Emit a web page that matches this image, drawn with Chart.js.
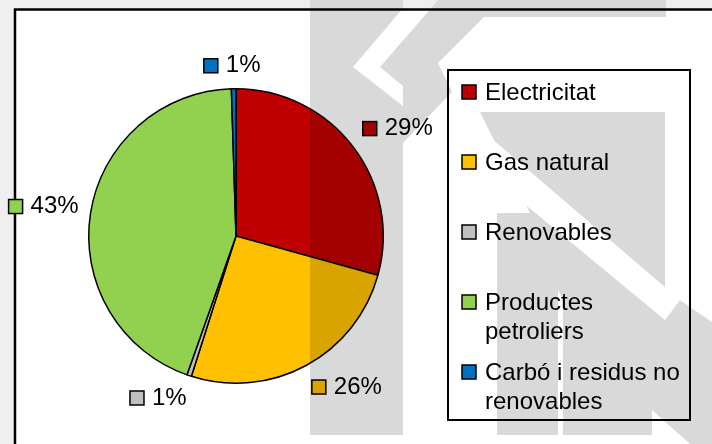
<!DOCTYPE html>
<html>
<head>
<meta charset="utf-8">
<script src="https://cdn.jsdelivr.net/npm/chart.js@4.4.0/dist/chart.umd.min.js"></script>
<style>
  html, body { margin: 0; padding: 0; background: #efefef; }
  #wrap { position: relative; width: 712px; height: 444px; }
</style>
</head>
<body>
<div id="wrap"><canvas id="chart" width="712" height="444"></canvas></div>
<script>
// Final energy consumption by source (shares)
const categories = ['Electricitat', 'Gas natural', 'Renovables', 'Productes petroliers', 'Carbó i residus no renovables'];
const shares = [29.3, 25.6, 0.5, 44.1, 0.5];
const shareLabels = ['29%', '26%', '1%', '43%', '1%'];
const sliceColors = ['#c00000', '#ffc000', '#c0c0c0', '#92d050', '#0070c0'];

const FONT = '"Liberation Sans", Arial, sans-serif';

// white plot frame with black border (runs off the right/bottom of the picture)
const framePlugin = {
  id: 'frame',
  beforeDraw(chart) {
    const ctx = chart.ctx;
    ctx.save();
    ctx.fillStyle = '#ffffff';
    ctx.fillRect(15, 9, 720, 460);
    ctx.strokeStyle = '#000';
    ctx.lineWidth = 2.5;
    ctx.strokeRect(15, 9.5, 720, 460);
    ctx.restore();
  }
};

// "marker + percentage" labels placed outside each slice
const sliceLabels = {
  id: 'sliceLabels',
  afterDatasetsDraw(chart) {
    const ctx = chart.ctx;
    const meta = chart.getDatasetMeta(0);
    ctx.save();
    ctx.font = '24px ' + FONT;
    ctx.textBaseline = 'middle';
    meta.data.forEach((arc, i) => {
      const mid = (arc.startAngle + arc.endAngle) / 2;
      const dx = Math.cos(mid), dy = Math.sin(mid);
      const r = arc.outerRadius + 12;
      const ax = arc.x + dx * r, ay = arc.y + dy * r;
      const txt = shareLabels[i];
      const box = 14, gap = 8;
      const w = box + gap + ctx.measureText(txt).width;
      const h = 22;
      const kx = Math.max(-1, Math.min(1, dx * 3));
      const ky = Math.max(-1, Math.min(1, dy * 3));
      const cx = ax + kx * w / 2, cy = ay + ky * h / 2;
      const left = cx - w / 2;
      ctx.fillStyle = sliceColors[i];
      ctx.fillRect(left, cy - box / 2, box, box);
      ctx.strokeStyle = '#000';
      ctx.lineWidth = 1.5;
      ctx.strokeRect(left, cy - box / 2, box, box);
      ctx.fillStyle = '#000';
      ctx.fillText(txt, left + box + gap, cy);
    });
    ctx.restore();
  }
};

// boxed legend on the right, entries wrap inside the box
const boxLegend = {
  id: 'boxLegend',
  afterDatasetsDraw(chart) {
    const ctx = chart.ctx;
    const L = 448, T = 70, R = 690, B = 420;
    ctx.save();
    ctx.fillStyle = '#fff';
    ctx.fillRect(L, T, R - L, B - T);
    ctx.strokeStyle = '#000';
    ctx.lineWidth = 2;
    ctx.strokeRect(L, T, R - L, B - T);
    ctx.font = '24px ' + FONT;
    ctx.textBaseline = 'middle';
    const slot = (B - T) / chart.data.labels.length;
    const tx = L + 37, maxW = R - tx - 2, lineH = 29;
    chart.data.labels.forEach((lab, i) => {
      const words = lab.split(' ');
      const lines = [];
      let cur = '';
      words.forEach(wd => {
        const test = cur ? cur + ' ' + wd : wd;
        if (ctx.measureText(test).width > maxW && cur) { lines.push(cur); cur = wd; }
        else cur = test;
      });
      lines.push(cur);
      const y0 = T + i * slot + 22;
      ctx.fillStyle = sliceColors[i];
      ctx.fillRect(L + 14, y0 - 7, 14, 14);
      ctx.strokeStyle = '#000';
      ctx.lineWidth = 1.5;
      ctx.strokeRect(L + 14, y0 - 7, 14, 14);
      ctx.fillStyle = '#000';
      lines.forEach((ln, j) => ctx.fillText(ln, tx, y0 + 1 + j * lineH));
    });
    ctx.restore();
  }
};

// grey watermark laid over everything (multiplied)
const wmGrey = [
  [[310, 0], [403, 0], [403, 435], [310, 435]],
  [[438, 0], [666, 0], [666, 17], [438, 17]],
  [[380, 67], [438, 0], [484, 0], [484, 17], [438, 63], [452, 92], [403, 143], [403, 86]],
  [[480, 112], [665, 112], [665, 290], [712, 322], [712, 444], [690, 444], [652, 410], [652, 435], [563, 435], [563, 300], [558, 290], [558, 435], [497, 435], [497, 213], [530, 213]]
];
const wmWhite = [
  [[410, 0], [438, 0], [380, 67], [403, 86], [403, 106], [353, 67]],
  [[447, 140], [470, 120], [680, 300], [665, 320]]
];
const watermark = {
  id: 'watermark',
  afterDraw(chart) {
    const off = document.createElement('canvas');
    off.width = chart.width; off.height = chart.height;
    const o = off.getContext('2d');
    const path = (p) => {
      o.beginPath();
      p.forEach(([x, y], k) => k ? o.lineTo(x, y) : o.moveTo(x, y));
      o.closePath();
      o.fill();
    };
    o.fillStyle = '#d9d9d9';
    wmGrey.forEach(path);
    o.globalCompositeOperation = 'destination-out';
    o.fillStyle = '#000';
    wmWhite.forEach(path);
    const ctx = chart.ctx;
    ctx.save();
    ctx.globalCompositeOperation = 'multiply';
    ctx.drawImage(off, 0, 0);
    ctx.restore();
  }
};

new Chart(document.getElementById('chart'), {
  type: 'pie',
  data: {
    labels: categories,
    datasets: [{
      data: shares,
      backgroundColor: sliceColors,
      borderColor: '#000',
      borderWidth: 1.5
    }]
  },
  options: {
    responsive: false,
    animation: false,
    layout: { padding: { left: 88, top: 88, right: 328, bottom: 60 } },
    plugins: { legend: { display: false }, tooltip: { enabled: false } }
  },
  plugins: [framePlugin, sliceLabels, boxLegend, watermark]
});
</script>
</body>
</html>
